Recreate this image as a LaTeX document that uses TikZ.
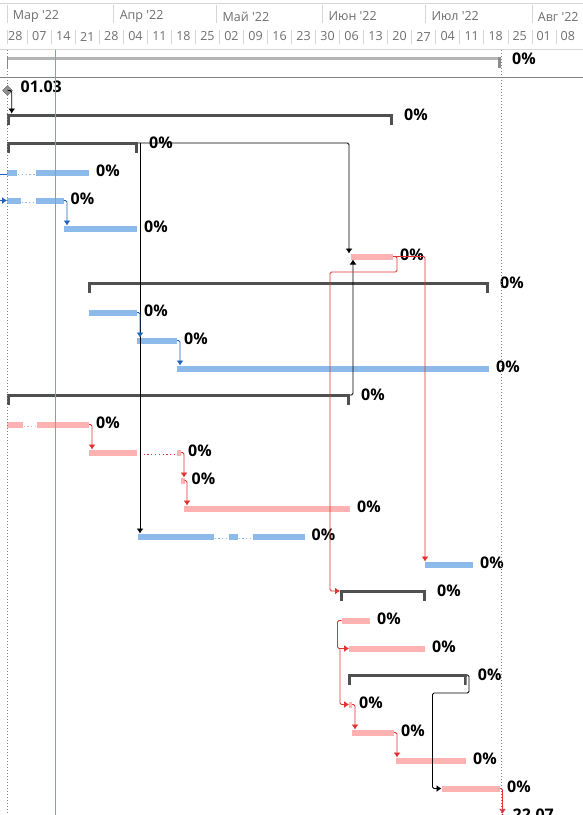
\documentclass[tikz,border=0pt]{standalone}
\usepackage{fontspec}
\setmainfont{Open Sans}
\usetikzlibrary{positioning,shapes.geometric,arrows.meta}
\definecolor{barblue}{RGB}{140,186,234}
\definecolor{barred}{RGB}{255,178,178}
\definecolor{sumgray}{RGB}{80,80,80}
\definecolor{projgray}{RGB}{180,180,180}
\definecolor{projcap}{RGB}{140,140,140}
\definecolor{lineblue}{RGB}{30,100,190}
\definecolor{linered}{RGB}{226,50,50}
\definecolor{hdrgray}{RGB}{110,110,110}
\definecolor{gridgray}{RGB}{215,215,215}
\definecolor{sepgray}{RGB}{128,128,128}
\definecolor{todaygreen}{RGB}{125,178,105}

\begin{document}
\begin{tikzpicture}[
  x=1pt, y=-1pt,
  hdr/.style={font=\fontsize{12.5}{14}\selectfont, text=hdrgray, inner sep=0pt},
  pct/.style={font=\fontsize{16}{18}\selectfont\bfseries, inner sep=0pt, yshift=1.5pt},
  sumpct/.style={pct, yshift=-3pt},
  task/.style={anchor=west, minimum height=6pt, inner sep=0pt, outer sep=0pt},
  bluebar/.style={task, fill=barblue},
  redbar/.style={task, fill=barred},
  summary/.style={anchor=north west, minimum height=11pt, inner sep=0pt, outer sep=0pt, fill=white,
    path picture={
      \fill[sumgray] (path picture bounding box.north west) rectangle ([yshift=-3pt]path picture bounding box.north east);
      \fill[sumgray] (path picture bounding box.north west) rectangle ([xshift=3pt]path picture bounding box.south west);
      \fill[sumgray] (path picture bounding box.north east) rectangle ([xshift=-3pt]path picture bounding box.south east);
    }},
  projsum/.style={anchor=north west, minimum height=11pt, inner sep=0pt, outer sep=0pt, fill=white,
    path picture={
      \fill[projgray] (path picture bounding box.north west) rectangle ([yshift=-3pt]path picture bounding box.north east);
      \fill[projcap] (path picture bounding box.north east) rectangle ([xshift=-3pt]path picture bounding box.south east);
      \draw[projcap, line width=0.8pt] ([xshift=0.6pt]path picture bounding box.north west) -- ([xshift=0.6pt]path picture bounding box.south west);
    }},
  milestone/.style={diamond, fill=gray!85, draw=gray!70!black, minimum size=10pt, inner sep=0pt},
  conn/.style={line width=0.9pt, rounded corners=1.5pt, -{Latex[length=5pt,width=7pt]}},
  blueconn/.style={conn, draw=lineblue},
  redconn/.style={conn, draw=linered},
  blackconn/.style={conn, draw=black},
  gapdots/.style={line width=1.5pt, dash pattern=on 1.3pt off 2.5pt}
]
\useasboundingbox (0,0) rectangle (583,815);
\fill[white] (0,0) rectangle (583,815);

% timescale
\draw[gridgray] (0,3) -- (583,3);
\draw[gridgray] (0,49) -- (583,49);
\foreach \x/\m [count=\i] in {6.7/Мар,113.6/Апр,216.5/Май,322.4/Июн,425.3/Июл,531.7/Авг}{
  \draw[gridgray] (\x,5) -- (\x,23);
  \node[hdr, anchor=west] (mon\i) at (\x+6,16.5) {\m\ {\textquotesingle}22};
}
\foreach \d [count=\i from 0] in {28,07,14,21,28,04,11,18,25,02,09,16,23,30,06,13,20,27,04,11,18,25,01,08}
  \node[hdr] (day\i) at (15.3+24.02*\i,36.5) {\d};
\foreach \i in {0,...,22}
  \draw[gridgray] (27.3+24.02*\i,30) -- (27.3+24.02*\i,44);
\draw[gridgray] (7,30) -- (7,44);

% project row
\node[projsum, minimum width=494pt] (P0) at (7,57.3) {};
\node[sumpct, right=11pt of P0.north east] (pP0) {0\%};
\draw[sepgray] (0,77) -- (583,77);

% start milestone
\node[milestone] (M1) at (7.5,90.5) {};
\node[pct, anchor=west] (pM1) at (20.5,88.5) {01.03};

% summaries
\node[summary, minimum width=386pt] (A) at (7,113.5) {};
\node[summary, minimum width=131pt] (B) at (7,141.5) {};
\node[summary, minimum width=401pt] (G) at (88,281.5) {};
\node[summary, minimum width=343pt] (K) at (7,393.5) {};
\node[summary, minimum width=86pt] (R) at (340,589.5) {};
\node[summary, minimum width=119pt] (U) at (347.7,673.5) {};

% tasks
\node[bluebar, minimum width=82pt] (C) at (7,172.5) {};
\node[bluebar, minimum width=56.5pt] (D) at (7,200.5) {};
\node[bluebar, minimum width=73pt] (E) at (64,228.5) {};
\node[redbar, minimum width=42.5pt] (F) at (350.5,256.5) {};
\node[bluebar, minimum width=48.5pt] (H) at (88.5,312.5) {};
\node[bluebar, minimum width=40pt] (I) at (137,340.5) {};
\node[bluebar, minimum width=312pt] (J) at (177,368.5) {};
\node[redbar, minimum width=82pt] (L) at (7,424.5) {};
\node[redbar, minimum width=92pt] (M) at (89,452.5) {};
\node[redbar, minimum width=3.5pt] (N) at (181,480.5) {};
\node[redbar, minimum width=166pt] (O) at (184,508.5) {};
\node[bluebar, minimum width=167pt] (P) at (137.5,536.5) {};
\node[bluebar, minimum width=48.5pt] (Q) at (424.5,564.5) {};
\node[redbar, minimum width=28.5pt] (S) at (341.5,620.5) {};
\node[redbar, minimum width=76pt] (T) at (349,648.5) {};
\node[redbar, minimum width=3pt] (V) at (349,704.5) {};
\node[redbar, minimum width=42pt] (W) at (352,732.5) {};
\node[redbar, minimum width=70.5pt] (X) at (395.5,760.5) {};
\node[redbar, minimum width=58.5pt] (Y) at (441.5,788.5) {};
\node[milestone, fill=linered, draw=linered] (Z) at (502.5,819) {};

% idle stretches
\fill[white] (17,169) rectangle (35.5,176);
\draw[barblue, gapdots] (18,174.5) -- (35,174.5);
\fill[white] (20.5,197) rectangle (35.5,204);
\draw[barblue, gapdots] (21.5,202.5) -- (35,202.5);
\fill[white] (22.5,421) rectangle (36.5,428);
\draw[barred, gapdots] (23.5,426.5) -- (36,426.5);
\fill[white] (137,449) rectangle (177.3,456);
\draw[linered, gapdots] (143.5,454.5) -- (177,454.5);
\fill[white] (213.5,533) rectangle (229.3,540);
\draw[barblue, gapdots] (214.5,538.5) -- (229,538.5);
\fill[white] (237.7,533) rectangle (252.7,540);
\draw[barblue, gapdots] (238.5,538.5) -- (252.5,538.5);

% labels
\node[sumpct, right=11pt of A.north east] (pA) {0\%};
\node[sumpct, right=11pt of B.north east] (pB) {0\%};
\node[sumpct, right=11pt of G.north east] (pG) {0\%};
\node[sumpct, right=11pt of K.north east] (pK) {0\%};
\node[sumpct, right=11pt of R.north east] (pR) {0\%};
\node[sumpct, right=11pt of U.north east] (pU) {0\%};
\node[pct, right=7pt of C] (pC) {0\%};
\node[pct, right=7pt of D] (pD) {0\%};
\node[pct, right=7pt of E] (pE) {0\%};
\node[pct, right=7pt of F] (pF) {0\%};
\node[pct, right=7pt of H] (pH) {0\%};
\node[pct, right=7pt of I] (pI) {0\%};
\node[pct, right=7pt of J] (pJ) {0\%};
\node[pct, right=7pt of L] (pL) {0\%};
\node[pct, right=7pt of M] (pM) {0\%};
\node[pct, right=7pt of N] (pN) {0\%};
\node[pct, right=7pt of O] (pO) {0\%};
\node[pct, right=7pt of P] (pP) {0\%};
\node[pct, right=7pt of Q] (pQ) {0\%};
\node[pct, right=7pt of S] (pS) {0\%};
\node[pct, right=7pt of T] (pT) {0\%};
\node[pct, right=7pt of V] (pV) {0\%};
\node[pct, right=7pt of W] (pW) {0\%};
\node[pct, right=7pt of X] (pX) {0\%};
\node[pct, right=7pt of Y] (pY) {0\%};
\node[pct, anchor=west] (pZ) at (512.5,816) {22.07};

% links
\draw[blackconn] (M1.center) -| ([xshift=4.7pt]A.north west);
\draw[blackconn] ([yshift=-1.5pt]B.north east) -| ([xshift=-1.5pt]F.north west);
\draw[blackconn] ([xshift=2pt,yshift=-1.5pt]B.north east) -- ([xshift=2.5pt]P.north west);
\draw[blackconn] ([yshift=-1.5pt]K.north east) -| ([xshift=2.5pt]F.south west);
\draw[redconn] (F.east) -| (397,272) -| (330,591) -- ([yshift=-1.5pt]R.north west);
\draw[redconn] (F.east) -| ([xshift=0.5pt]Q.north west);
\draw[blueconn, -] ([yshift=-2pt]C.west) -- ++(-8,0);
\draw[blueconn] ([xshift=-8pt]D.west) -- (D.west);
\draw[blueconn] (D.east) -| ([xshift=3pt]E.north west);
\draw[blueconn] (H.east) -| ([xshift=3pt]I.north west);
\draw[blueconn] (I.east) -| ([xshift=3pt]J.north west);
\draw[redconn] (L.east) -| ([xshift=3pt]M.north west);
\draw[redconn] (M.east) -| ([xshift=3pt]N.north west);
\draw[redconn] (N.east) -| ([xshift=3pt]O.north west);
\draw[redconn] (S.west) -- ++(-4,0) |- (T.west);
\draw[redconn] ([xshift=-9pt]T.west) |- (V.west);
\draw[blackconn] ([yshift=-1.5pt]U.north east) -| (469,693) -| ([xshift=-9pt]Y.west) -- (Y.west);
\draw[redconn] (V.east) -| ([xshift=3pt]W.north west);
\draw[redconn] (W.east) -| ([xshift=1.5pt]X.north west);
\draw[redconn] (Y.east) -| (Z.north);

% project start / finish / status date
\draw[sepgray, line width=0.8pt, dash pattern=on 1pt off 2pt] (7,50) -- (7,815);
\draw[sepgray, line width=0.8pt, dash pattern=on 1pt off 2pt] (501,50) -- (501,815);
\draw[todaygreen, line width=1pt] (55,49.5) -- (55,815);
\end{tikzpicture}
\end{document}
